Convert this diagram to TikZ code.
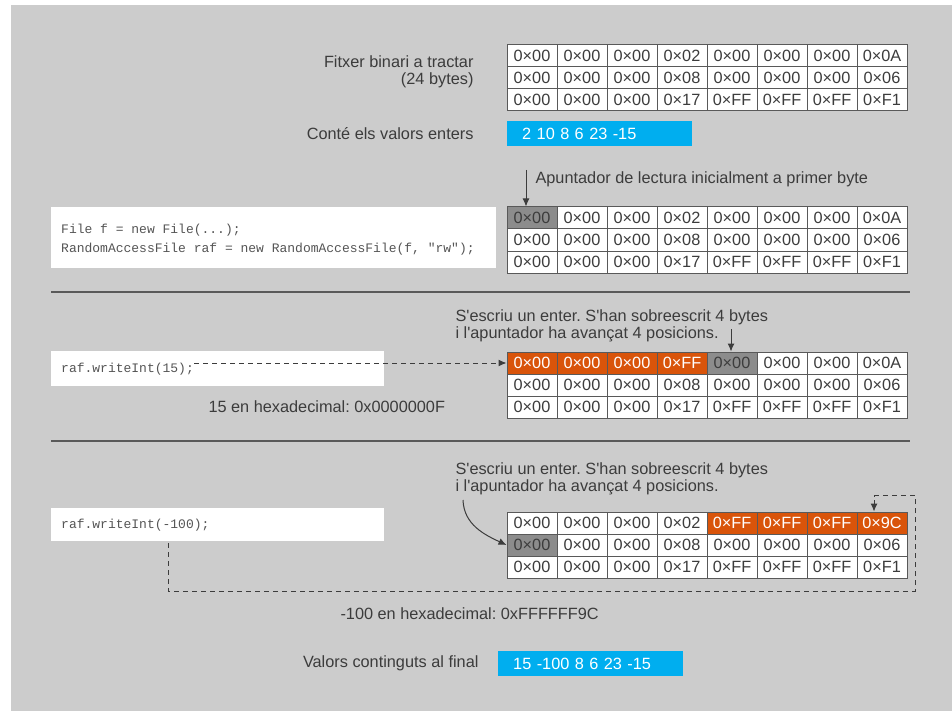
\documentclass[tikz,border=0pt]{standalone}
\usepackage{fontspec}
\setmainfont{Liberation Sans}
\setmonofont{Liberation Mono}
\usepackage{xcolor}
\usetikzlibrary{positioning, arrows.meta, calc}
\frenchspacing

\definecolor{panelGray}{HTML}{CCCCCC}
\definecolor{inkGray}{HTML}{3C3C3C}
\definecolor{ruleGray}{HTML}{595959}
\definecolor{codeGray}{HTML}{555555}
\definecolor{valueBlue}{HTML}{00AEEF}
\definecolor{cellW}{HTML}{FFFFFF}
\definecolor{cellG}{HTML}{8C8C8C}
\definecolor{cellO}{HTML}{D9540A}
\colorlet{txtW}{inkGray}
\colorlet{txtG}{inkGray}
\colorlet{txtO}{white}

% one 8x3 grid of bytes: name, top edge, three rows of value/colour pairs
\newcommand{\byteTable}[5]{%
  \foreach \rowVals [count=\r] in {{#3},{#4},{#5}} {
    \foreach \v/\f [count=\c] in \rowVals {
      \node[cell, fill=cell\f, text=txt\f] (#1-\r-\c) at ({482+50*\c}, {#2-11+22*\r}) {\v};
    }
  }
}
\newcommand{\apos}{\textquotesingle}

\begin{document}
\begin{tikzpicture}[x=1pt, y=-1pt,
    every node/.style={font=\fontsize{16.3}{17}\selectfont, text=inkGray},
    cell/.style={rectangle, draw=ruleGray, line width=1pt, minimum width=50pt, minimum height=22pt, inner sep=0pt},
    label/.style={align=right, anchor=east},
    note/.style={align=left, anchor=west},
    valueBox/.style={rectangle, fill=valueBlue, text=white, anchor=north west, text width=155pt, inner xsep=15pt, minimum height=25pt, align=left},
    codeBox/.style={rectangle, fill=white, anchor=north west, inner sep=0pt},
    code/.style={font=\fontsize{13}{19}\selectfont\ttfamily, text=codeGray, align=left, anchor=west, inner sep=0pt},
    pointer/.style={draw=inkGray, line width=1pt, -{Latex[length=8pt, width=7pt]}},
    dashedLink/.style={pointer, dash pattern=on 5pt off 4pt},
    separator/.style={draw=ruleGray, line width=1.8pt}]

  \fill[white] (0,0) rectangle (952,711);
  \fill[panelGray] (11,5) rectangle (952,711);
  \useasboundingbox (0,0) rectangle (952,711);

  % the file and its integers
  \byteTable{t1}{45}
    {0×00/W,0×00/W,0×00/W,0×02/W,0×00/W,0×00/W,0×00/W,0×0A/W}
    {0×00/W,0×00/W,0×00/W,0×08/W,0×00/W,0×00/W,0×00/W,0×06/W}
    {0×00/W,0×00/W,0×00/W,0×17/W,0×FF/W,0×FF/W,0×FF/W,0×F1/W}
  \node[label] (fileLabel) at (477,72) {Fitxer binari a tractar\\(24 bytes)};
  \node[valueBox] (values1) at (507,121) {2 10 8 6 23 -15};
  \node[label, left = 30pt of values1] (valuesLabel) {Conté els valors enters};

  % opening the file
  \byteTable{t2}{207}
    {0×00/G,0×00/W,0×00/W,0×02/W,0×00/W,0×00/W,0×00/W,0×0A/W}
    {0×00/W,0×00/W,0×00/W,0×08/W,0×00/W,0×00/W,0×00/W,0×06/W}
    {0×00/W,0×00/W,0×00/W,0×17/W,0×FF/W,0×FF/W,0×FF/W,0×F1/W}
  \coordinate (readTop) at (526,170);
  \draw[pointer] (readTop) -- (readTop |- t2-1-1.north);
  \node[note] (readNote) at (532,179) {Apuntador de lectura inicialment a primer byte};
  \node[codeBox, minimum width=445pt, minimum height=61pt] (codeBox2) at (51,207) {};
  \node[code, right = 10pt of codeBox2.west, yshift=-2pt] (openCode) {File f = new File(...);\\RandomAccessFile raf = new RandomAccessFile(f, "rw");};

  \draw[separator] (51,292) -- (910,292);

  % writing 15
  \byteTable{t3}{352}
    {0×00/O,0×00/O,0×00/O,0×FF/O,0×00/G,0×00/W,0×00/W,0×0A/W}
    {0×00/W,0×00/W,0×00/W,0×08/W,0×00/W,0×00/W,0×00/W,0×06/W}
    {0×00/W,0×00/W,0×00/W,0×17/W,0×FF/W,0×FF/W,0×FF/W,0×F1/W}
  \node[note] (writeNote3) at (452,326) {S\apos escriu un enter. S\apos han sobreescrit 4 bytes\\i l\apos apuntador ha avançat 4 posicions.};
  \coordinate (writeTop3) at (731,329);
  \draw[pointer] (writeTop3) -- (writeTop3 |- t3-1-5.north);
  \node[codeBox, minimum width=333pt, minimum height=35pt] (codeBox3) at (51,351) {};
  \node[code, right = 10pt of codeBox3.west] (call15) {raf.writeInt(15);};
  \draw[dashedLink] (call15.east |- t3-1-1.west) -- (t3-1-1.west);
  \node[note] (hex15) at (205,407) {15 en hexadecimal: 0x0000000F};

  \draw[separator] (51,441) -- (910,441);

  % writing -100
  \byteTable{t4}{512}
    {0×00/W,0×00/W,0×00/W,0×02/W,0×FF/O,0×FF/O,0×FF/O,0×9C/O}
    {0×00/G,0×00/W,0×00/W,0×08/W,0×00/W,0×00/W,0×00/W,0×06/W}
    {0×00/W,0×00/W,0×00/W,0×17/W,0×FF/W,0×FF/W,0×FF/W,0×F1/W}
  \node[note] (writeNote4) at (452,479) {S\apos escriu un enter. S\apos han sobreescrit 4 bytes\\i l\apos apuntador ha avançat 4 posicions.};
  \coordinate (bendStart4) at (463,500);
  \draw[pointer] (bendStart4) to[out=-88, in=155] (t4-2-1.west);
  \node[codeBox, minimum width=333pt, minimum height=33pt] (codeBox4) at (51,508) {};
  \node[code, right = 10pt of codeBox4.west] (call100) {raf.writeInt(-100);};
  \coordinate (hexTap) at (168,543);
  \coordinate (loopCorner) at (915,591);
  \draw[dashedLink] (hexTap) |- (loopCorner) |- ([xshift=-8pt, yshift=16pt]t4-1-8.north) -- ([xshift=-8pt]t4-1-8.north);
  \node[note] (hex100) at (337,614) {-100 en hexadecimal: 0xFFFFFF9C};

  \node[valueBox] (values2) at (498,651) {15 -100 8 6 23 -15};
  \node[label, left = 16pt of values2] (finalLabel) {Valors continguts al final};

\end{tikzpicture}
\end{document}
